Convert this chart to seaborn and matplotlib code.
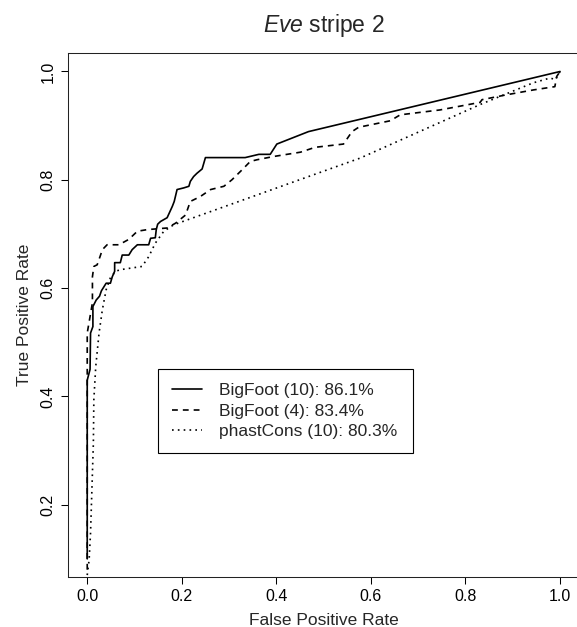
import matplotlib
matplotlib.use("Agg")
import matplotlib.pyplot as plt
import seaborn as sns

# ROC points
fpr_bf10 = [0.0, 0.0, 0.006, 0.007, 0.012, 0.012, 0.019, 0.026, 0.030, 0.040, 0.049,
            0.053, 0.058, 0.058, 0.070, 0.074, 0.088, 0.095, 0.106, 0.130, 0.134,
            0.144, 0.146, 0.149, 0.155, 0.169, 0.180, 0.184, 0.190, 0.204, 0.215,
            0.218, 0.225, 0.232, 0.243, 0.250, 0.334, 0.363, 0.387, 0.401, 0.468, 1.0]
tpr_bf10 = [0.10, 0.43, 0.45, 0.517, 0.529, 0.566, 0.578, 0.585, 0.595, 0.609, 0.609,
            0.621, 0.631, 0.647, 0.647, 0.661, 0.661, 0.671, 0.680, 0.680, 0.692,
            0.693, 0.708, 0.718, 0.723, 0.730, 0.751, 0.760, 0.782, 0.785, 0.788,
            0.797, 0.806, 0.812, 0.820, 0.841, 0.841, 0.847, 0.847, 0.866, 0.889, 1.0]

fpr_bf4 = [0.0, 0.0, 0.011, 0.011, 0.014, 0.021, 0.027, 0.032, 0.042, 0.067, 0.088,
           0.106, 0.127, 0.169, 0.187, 0.208, 0.218, 0.239, 0.261, 0.289, 0.306,
           0.327, 0.345, 0.359, 0.394, 0.451, 0.482, 0.542, 0.560, 0.574, 0.641,
           0.662, 0.746, 0.831, 0.835, 0.887, 0.944, 0.989, 0.993, 1.0]
tpr_bf4 = [0.08, 0.517, 0.573, 0.621, 0.640, 0.643, 0.658, 0.671, 0.680, 0.680, 0.690,
           0.705, 0.708, 0.711, 0.720, 0.735, 0.760, 0.769, 0.782, 0.788, 0.800,
           0.818, 0.834, 0.837, 0.843, 0.851, 0.860, 0.866, 0.889, 0.897, 0.909,
           0.920, 0.929, 0.943, 0.948, 0.957, 0.966, 0.972, 0.991, 1.0]

fpr_phast = [0.0, 0.004, 0.007, 0.013, 0.014, 0.018, 0.025, 0.032, 0.040, 0.049,
             0.060, 0.070, 0.116, 0.130, 0.144, 0.162, 0.183, 0.577, 0.831, 0.873,
             0.943, 0.979, 0.990, 1.0]
tpr_phast = [0.07, 0.098, 0.148, 0.314, 0.394, 0.455, 0.517, 0.560, 0.597, 0.619,
             0.631, 0.634, 0.640, 0.658, 0.683, 0.705, 0.717, 0.840, 0.939, 0.954,
             0.979, 0.988, 0.985, 1.0]

labels = ["BigFoot (10): 86.1%", "BigFoot (4): 83.4%", "phastCons (10): 80.3%"]
linestyles = ["-", (0, (3.5, 3.0)), (0, (1, 2.5))]
ticks_x = [0.0, 0.2, 0.4, 0.6, 0.8, 1.0]
ticks_y = [0.2, 0.4, 0.6, 0.8, 1.0]

sns.set_theme(style="ticks")
plt.rcParams["font.family"] = ["Liberation Sans", "DejaVu Sans"]
plt.rcParams["mathtext.fontset"] = "custom"
plt.rcParams["mathtext.rm"] = "Liberation Sans"
plt.rcParams["mathtext.it"] = "Liberation Sans:italic"

fig = plt.figure(figsize=(5.77, 6.27), dpi=100)
ax = fig.add_axes([0.1184, 0.0802, 0.885, 0.836])

curves = [(fpr_bf10, tpr_bf10), (fpr_bf4, tpr_bf4), (fpr_phast, tpr_phast)]
for (fpr, tpr), label, ls in zip(curves, labels, linestyles):
    sns.lineplot(x=fpr, y=tpr, ax=ax, estimator=None, sort=False,
                 color="black", linewidth=1.2, linestyle=ls, label=label)

ax.set_xlim(-0.04, 1.04)
ax.set_ylim(0.067, 1.035)
ax.set_xticks(ticks_x)
ax.set_xticklabels([f"{t:.1f}" for t in ticks_x])
ax.set_yticks(ticks_y)
ax.set_yticklabels([f"{t:.1f}" for t in ticks_y], rotation=90, va="center")
ax.tick_params(direction="out", length=5, width=0.75, labelsize=11.5,
               pad=4, color="black", labelcolor="black")

for sp in ax.spines.values():
    sp.set_visible(True)
    sp.set_linewidth(0.75)
    sp.set_color("#222222")

ax.set_xlabel("False Positive Rate", fontsize=12.5, labelpad=6)
ax.set_ylabel("True Positive Rate", fontsize=12.5, labelpad=6)
ax.set_title(r"$\mathit{Eve}$ stripe 2", fontsize=16.5, pad=15)

leg = ax.legend(loc="upper left", bbox_to_anchor=(0.15, 0.293, 0.538, 0.157),
                bbox_transform=ax.transData, mode="expand", borderaxespad=0,
                frameon=True, fancybox=False, edgecolor="black", framealpha=1,
                fontsize=12.5, handlelength=1.7, handletextpad=1.0,
                borderpad=0.8, labelspacing=0.3)
leg.get_frame().set_linewidth(0.8)

fig.savefig("out.png", dpi=100)
